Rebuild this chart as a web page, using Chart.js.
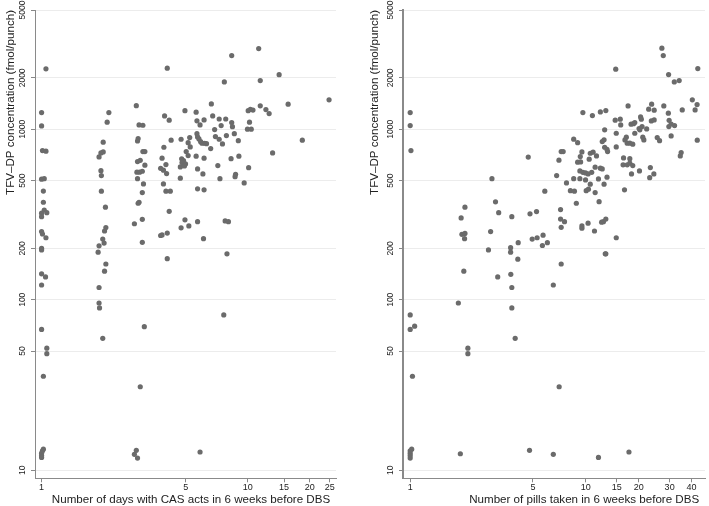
<!DOCTYPE html>
<html>
<head>
<meta charset="utf-8">
<script src="https://cdn.jsdelivr.net/npm/chart.js@4.4.1/dist/chart.umd.min.js"></script>
<style>
  body { margin: 0; background: #fff; }
  #wrap { position: relative; width: 709px; height: 506px; }
  canvas { position: absolute; top: 0; }
</style>
</head>
<body>
<div id="wrap">
  <canvas id="casChart" width="340" height="506" style="left:0"></canvas>
  <canvas id="pillChart" width="341" height="506" style="left:368px"></canvas>
</div>
<script>
// ---------------- DATA ----------------
// left panel: days with CAS acts vs TFV-DP concentration
const casDays = [
  1.05, 1.0, 1.0, 1.01, 1.05, 1.0, 1.03, 1.02, 1.02, 1.03, 1.0, 1.0, 1.06, 1.0, 1.01, 1.05, 1.0, 1.0, 1.0, 1.045,
  1.0, 1.0, 1.06, 1.06, 1.02, 1.02, 1.01, 1.0, 1.0, 1.0,
  2.12, 2.08, 1.99, 1.99, 1.94, 1.90, 1.94, 1.95, 1.95, 2.04, 2.05, 2.02, 1.98, 2.01, 1.90, 1.88, 2.05, 2.02, 1.90, 1.90,
  1.91, 1.98,
  2.88, 2.97, 3.10, 2.94, 2.92, 3.10, 3.17, 2.92, 3.01, 3.17, 2.90, 2.99, 3.08, 2.92, 3.12, 3.08, 2.97, 2.94, 2.82, 3.08,
  3.08, 3.15, 3.01, 2.82, 2.88, 2.92,
  4.07, 3.95, 4.16, 3.92, 4.25, 3.84, 4.01, 3.78, 3.90, 4.04, 3.90, 4.01, 4.21, 4.16, 3.78, 3.84, 4.07, 4.07,
  4.75, 4.96, 4.78, 4.88, 4.80, 4.99, 4.71, 4.93, 4.71, 4.96, 4.75, 5.18,
  5.23, 5.14, 5.26, 5.03, 5.14, 5.62, 5.67, 5.87, 6.14, 5.67, 5.71, 5.80, 5.91, 6.0, 6.17, 6.31,
  5.62, 6.14, 6.61, 6.76, 6.66, 6.91, 6.97, 7.27, 7.43, 7.27, 7.54, 7.82, 7.88, 8.36, 8.43, 8.61, 9.0,
  5.71, 6.06, 5.71, 6.14, 5.71, 6.10, 7.16, 7.33, 7.77, 8.06, 7.70, 8.36, 7.93, 8.30, 9.06, 8.68, 8.73, 9.61, 10.1,
  9.97, 10.4, 10.2, 10.05, 10.3, 10.6, 11.3, 11.5, 11.5, 12.25, 12.7, 13.2, 14.2, 15.7, 18.4, 24.8, 7.65, 5.87
];
const casConc = [
  2259, 1251, 1045, 749, 743, 509, 513, 434, 373, 336, 322, 307, 324, 251, 243, 231, 200, 196, 142, 136,
  122, 67, 52, 48.3, 35.6, 13.3, 13.0, 12.6, 12.2, 11.9,
  1251, 1099, 839, 736, 726, 688, 571, 535, 433, 349, 265, 253, 227, 215, 207, 190, 162, 147, 118, 95.7,
  89.5, 59.4,
  1374, 1059, 1055, 881, 853, 739, 739, 646, 657, 615, 560, 560, 567, 513, 478, 425, 373, 368, 279, 296,
  217, 69.5, 30.9, 12.4, 13.1, 11.8,
  2280, 1197, 1130, 784, 862, 676, 620, 590, 575, 549, 478, 433, 433, 330, 238, 240, 246, 174,
  873, 1285, 670, 655, 637, 626, 601, 609, 516, 294, 264, 271,
  893, 834, 787, 739, 700, 1259, 1120, 1059, 1134, 942, 901, 877, 845, 827, 827, 823,
  695, 676, 770, 1197, 1406, 995, 905, 1148, 1050, 873, 820, 1148, 917, 1094, 1035, 942, 857,
  585, 547, 447, 441, 287, 228, 612, 513, 290, 287, 1893, 2703, 186, 672, 695, 527, 544, 484, 595,
  1000, 1000, 1099, 1285, 1308, 1294, 2972, 1928, 1371, 1303, 1235, 726, 2089, 1402, 862, 1486, 81.5, 12.8
];

// right panel: pills taken vs TFV-DP concentration
const pillDays = [
  1.0, 1.0, 1.01, 1.0, 1.0, 1.06, 1.03, 1.02, 1.0, 1.0, 1.0, 1.0,
  2.05, 1.95, 1.97, 2.05, 2.04, 2.02, 1.88, 2.13, 2.13, 1.93,
  2.92, 3.06, 3.19, 3.79, 2.87, 4.12, 2.79, 3.73, 3.73, 4.10, 3.15, 3.74, 3.79, 3.79, 3.96,
  6.53, 7.24, 13.0, 7.05, 4.78, 6.53, 11.8, 17.6,
  9.62, 10.9, 12.1, 13.0, 14.7, 12.8, 14.9, 8.53, 8.98, 12.7, 12.4, 12.8, 13.2, 13.3, 14.9,
  4.70, 7.24, 7.43, 7.03, 9.50, 9.30, 8.98, 9.34, 10.6, 11.0, 11.5, 10.45, 11.3, 12.1, 12.4,
  9.25, 9.62, 9.96, 10.3, 10.8, 6.82, 8.53, 9.25, 9.96, 10.6, 11.8, 13.2, 12.7, 7.76,
  8.17, 8.61, 10.05, 10.35, 11.3, 5.84, 8.83, 11.9, 4.81, 5.24, 7.18, 7.18, 7.56, 7.24,
  9.50, 9.50, 10.3, 11.2, 12.3, 12.6, 13.0, 4.95, 5.28, 5.71, 5.66, 6.04, 12.9, 14.9,
  27.1, 27.6, 43.4, 14.8, 29.6, 31.9, 34.0, 40.4, 43.0, 41.9, 35.4, 27.8, 29.5,
  22.8, 23.7, 24.5, 17.4, 15.7, 15.8, 18.1, 18.7, 19.0, 20.5, 20.7, 20.1, 20.9, 22.2, 23.6, 24.5,
  29.8, 30.6, 32.0, 29.7, 19.0, 20.3, 17.0, 16.7, 17.2, 17.8, 18.5, 21.1, 21.4, 25.5, 26.3, 30.6, 43.1,
  16.4, 17.8, 16.3, 17.2, 17.8, 18.5, 18.2, 20.2, 23.3, 23.1, 24.4, 34.9, 34.5, 16.6
];
const pillConc = [
  1251, 1050, 749, 81.5, 67, 70, 35.6, 13.3, 13.0, 12.6, 12.2, 11.8,
  349, 302, 242, 245, 228, 147, 95.7, 52, 48.3, 12.5,
  513, 375, 324, 307, 251, 216, 196, 202, 190, 173, 136, 141, 118, 89.5, 59.4,
  122, 162, 186, 30.9, 13.1, 12.4, 11.9, 12.8,
  1251, 1202, 1263, 1286, 1129, 991, 947, 874, 834, 866, 846, 784, 761, 739, 787,
  686, 739, 739, 658, 736, 691, 641, 643, 723, 733, 697, 667, 599, 591, 585,
  569, 559, 554, 547, 559, 535, 513, 513, 504, 476, 511, 523, 476, 484,
  436, 433, 436, 445, 425, 433, 368, 376, 319, 329, 338, 297, 287, 266,
  271, 263, 281, 253, 285, 287, 297, 227, 231, 239, 208, 216, 186, 231,
  2986, 2702, 2268, 2249, 2090, 1894, 1928, 1486, 1394, 1298, 1298, 1370, 1241,
  1310, 1402, 1293, 1370, 1145, 1060, 1070, 1078, 1093, 1181, 1145, 1008, 1036, 1004, 1119, 1134,
  1127, 1073, 1050, 1036, 947, 991, 898, 865, 828, 828, 817, 898, 865, 893, 857, 913, 862,
  679, 672, 618, 618, 632, 612, 547, 569, 596, 520, 547, 729, 697, 441
];

// tick labels
const concTicks = [10, 50, 100, 200, 500, 1000, 2000, 5000];
const casTicks = [1, 5, 10, 15, 20, 25];
const pillTicks = [1, 5, 10, 15, 20, 30, 40];

const yTitle = "TFV\u2013DP concentration (fmol/punch)";
// trailing en space keeps the right-aligned title a few px inside the plot edge, like the original
const casTitle = "Number of days with CAS acts in 6 weeks before DBS\u2002";
const pillTitle = "Number of pills taken in 6 weeks before DBS\u2002";

// ---------------- CHART SETUP ----------------
const FONT = "'Liberation Sans', Arial, Helvetica, sans-serif";
const DOT = "#6b6b6b";

function makePanel(id, xs, ys, xTicks, xTitle, xMin, xMax, yTitlePad, yBorderWidth) {
  const points = xs.map((x, i) => ({ x: x, y: ys[i] }));
  return new Chart(document.getElementById(id), {
    type: "scatter",
    data: {
      datasets: [{
        data: points,
        backgroundColor: DOT,
        borderWidth: 0,
        pointRadius: 2.6
      }]
    },
    options: {
      responsive: false,
      animation: false,
      devicePixelRatio: 1,
      layout: { padding: { top: 10, right: 0, bottom: 0, left: 0 } },
      plugins: { legend: { display: false }, tooltip: { enabled: false } },
      scales: {
        x: {
          type: "logarithmic",
          min: xMin,
          max: xMax,
          afterFit: (s) => { s.height = 27.7; },
          afterBuildTicks: (s) => { s.ticks = xTicks.map(v => ({ value: v })); },
          grid: { drawOnChartArea: false, drawTicks: true, tickLength: 4, tickColor: "#888" },
          border: { display: true, color: "#8a8a8a", width: 1 },
          ticks: {
            autoSkip: false, maxRotation: 0, minRotation: 0, padding: 0,
            color: "#222", font: { family: FONT, size: 9 },
            callback: (v) => String(v)
          },
          title: {
            display: true, text: xTitle, align: "end", color: "#222",
            padding: { top: 0, bottom: -1 },
            font: { family: FONT, size: 11.6 }
          }
        },
        y: {
          type: "logarithmic",
          min: 8.975,
          max: 5000,
          afterFit: (s) => { s.width = 35; },
          afterBuildTicks: (s) => { s.ticks = concTicks.map(v => ({ value: v })); },
          grid: { color: "#ececec", lineWidth: 1, drawTicks: true, tickLength: 4, tickColor: "#888" },
          border: { display: true, color: "#8a8a8a", width: yBorderWidth },
          ticks: {
            autoSkip: false, minRotation: 90, maxRotation: 90, crossAlign: "center", padding: -1.6,
            color: "#222", font: { family: FONT, size: 8.5 },
            callback: (v) => String(v)
          },
          title: {
            display: true, text: yTitle, align: "end", color: "#222",
            padding: { top: yTitlePad, bottom: 0 },
            font: { family: FONT, size: 11.6 }
          }
        }
      }
    }
  });
}

makePanel("casChart", casDays, casConc, casTicks, casTitle, 0.929, 26.8, 3.5, 1);
makePanel("pillChart", pillDays, pillConc, pillTicks, pillTitle, 0.910, 47.7, 0, 2);
</script>
</body>
</html>
